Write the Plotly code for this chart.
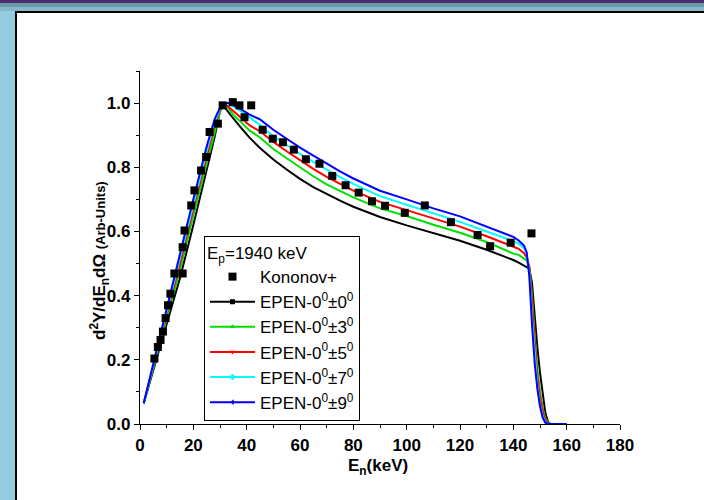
import plotly.graph_objects as go

# Neutron energy grid (keV) for the EPEN simulated spectra
energy = [1.4, 5, 10, 15, 20, 25, 28, 30, 31, 32, 33, 35, 38, 41, 45, 50, 55, 60, 65, 70,
          75, 80, 90, 100, 110, 120, 130, 135, 140, 142, 144, 145, 146, 147, 148, 149,
          150, 151, 152, 153, 154, 156, 160]

epen_0 = [0.065, 0.168, 0.31, 0.455, 0.62, 0.79, 0.895, 0.975, 0.995, 0.984, 0.972, 0.952, 0.922,
          0.893, 0.860, 0.824, 0.793, 0.764, 0.738, 0.716, 0.696, 0.677, 0.645, 0.619, 0.596,
          0.571, 0.543, 0.528, 0.511, 0.503, 0.494, 0.489, 0.484, 0.44, 0.33, 0.24, 0.16,
          0.09, 0.035, 0.006, 0.0, 0.0, 0.0]
epen_3 = [0.065, 0.175, 0.325, 0.48, 0.65, 0.815, 0.915, 0.972, 0.99, 0.995, 0.985, 0.963, 0.94,
          0.915, 0.893, 0.857, 0.828, 0.80, 0.772, 0.747, 0.726, 0.706, 0.672, 0.648, 0.621,
          0.596, 0.567, 0.549, 0.531, 0.527, 0.517, 0.51, 0.49, 0.40, 0.28, 0.17, 0.10,
          0.05, 0.018, 0.004, 0.0, 0.0, 0.0]
epen_5 = [0.065, 0.18, 0.34, 0.50, 0.67, 0.83, 0.93, 0.978, 0.993, 0.997, 0.99, 0.973, 0.953,
          0.931, 0.912, 0.879, 0.850, 0.822, 0.795, 0.770, 0.748, 0.727, 0.692, 0.667, 0.640,
          0.615, 0.585, 0.569, 0.551, 0.546, 0.532, 0.52, 0.49, 0.38, 0.25, 0.15, 0.085,
          0.04, 0.012, 0.002, 0.0, 0.0, 0.0]
epen_7 = [0.065, 0.185, 0.35, 0.515, 0.685, 0.85, 0.94, 0.982, 0.995, 0.998, 0.996, 0.99, 0.974,
          0.955, 0.932, 0.897, 0.869, 0.842, 0.817, 0.792, 0.769, 0.748, 0.71, 0.683, 0.656,
          0.63, 0.60, 0.586, 0.57, 0.562, 0.548, 0.53, 0.47, 0.33, 0.21, 0.12, 0.06,
          0.025, 0.006, 0.0, 0.0, 0.0, 0.0]
epen_9 = [0.065, 0.19, 0.36, 0.53, 0.70, 0.865, 0.95, 0.985, 0.995, 1.0, 1.0, 0.994, 0.98,
          0.965, 0.949, 0.917, 0.889, 0.861, 0.836, 0.811, 0.787, 0.765, 0.727, 0.70, 0.672,
          0.647, 0.615, 0.60, 0.583, 0.572, 0.556, 0.535, 0.46, 0.31, 0.19, 0.11, 0.055,
          0.02, 0.004, 0.0, 0.0, 0.0, 0.0]

# Measured spectrum (Kononov et al.)
kon_energy = [5.4, 6.7, 7.7, 8.6, 9.6, 10.5, 11.4, 12.9, 16.0, 16.0, 16.7, 19.2, 20.4, 22.9,
              24.8, 26.1, 29.2, 31.0, 34.8, 37.3, 39.2, 41.7, 46.0, 49.8, 53.6, 57.7, 62.2,
              67.3, 72.1, 77.1, 82.0, 87.0, 91.9, 99.3, 106.8, 116.6, 126.6, 131.3, 139.0, 146.8]
kon_yield = [0.204, 0.240, 0.262, 0.288, 0.33, 0.37, 0.406, 0.469, 0.469, 0.551, 0.603, 0.681,
             0.728, 0.79, 0.832, 0.91, 0.936, 0.993, 1.003, 0.993, 0.956, 0.993, 0.917, 0.889,
             0.878, 0.855, 0.825, 0.811, 0.773, 0.744, 0.721, 0.694, 0.68, 0.658, 0.681, 0.629,
             0.589, 0.554, 0.565, 0.594]

series = [
    ("EPEN-0<sup>0</sup>±0<sup>0</sup>", epen_0, "#000000", "square"),
    ("EPEN-0<sup>0</sup>±3<sup>0</sup>", epen_3, "#00e000", "triangle-up"),
    ("EPEN-0<sup>0</sup>±5<sup>0</sup>", epen_5, "#ff0000", "triangle-down"),
    ("EPEN-0<sup>0</sup>±7<sup>0</sup>", epen_7, "#00ffff", "diamond"),
    ("EPEN-0<sup>0</sup>±9<sup>0</sup>", epen_9, "#0000ff", "triangle-left"),
]

FONT = "Arial, Liberation Sans, sans-serif"
W, H = 704, 500
ML, MR, MT, MB = 140, 84, 71, 76
PW, PH = W - ML - MR, H - MT - MB


def px(x):
    return (x - ML) / PW


def py(y):
    return 1 - (y - MT) / PH


fig = go.Figure()

# simulated curves
for name, vals, col, sym in series:
    fig.add_trace(go.Scatter(x=energy, y=vals, mode="lines", showlegend=False,
                             line=dict(color=col, width=2), cliponaxis=False))

# measured points drawn on top
fig.add_trace(go.Scatter(x=kon_energy, y=kon_yield, mode="markers", name="Kononov+",
                         marker=dict(symbol="square", size=8, color="black"),
                         cliponaxis=False, legendrank=1))

# legend keys: line with a small symbol in the middle
for i, (name, vals, col, sym) in enumerate(series):
    fig.add_trace(go.Scatter(x=[None], y=[None], mode="lines+markers", name=name,
                             line=dict(color=col, width=2),
                             marker=dict(symbol=sym, size=5, color=col),
                             legendrank=2 + i))

axis_common = dict(showline=True, linecolor="black", linewidth=1.3, ticks="outside",
                   ticklen=5, tickwidth=1.3, tickcolor="black", showgrid=False,
                   zeroline=False, mirror=False,
                   tickfont=dict(family=FONT, size=17, color="black", weight=700))

fig.update_xaxes(range=[0, 180], dtick=20, tick0=0,
                 minor=dict(dtick=10, ticks="outside", ticklen=3, tickwidth=1.3,
                            tickcolor="black", showgrid=False),
                 **axis_common)
fig.update_yaxes(range=[0, 1.1], dtick=0.2, tick0=0, tickformat=".1f",
                 minor=dict(dtick=0.1, ticks="outside", ticklen=3, tickwidth=1.3,
                            tickcolor="black", showgrid=False),
                 **axis_common)

# slide-style frame around the chart
shapes = [
    dict(type="rect", x0=px(0), x1=px(15), y0=py(H), y1=py(0), fillcolor="#94cde0", line_width=0),
    dict(type="rect", x0=px(0), x1=px(W), y0=py(3), y1=py(0), fillcolor="#4b2f6a", line_width=0),
    dict(type="rect", x0=px(0), x1=px(W), y0=py(7), y1=py(3), fillcolor="#6a9aaa", line_width=0),
    dict(type="rect", x0=px(0), x1=px(W), y0=py(11), y1=py(7), fillcolor="#86b8c7", line_width=0),
    dict(type="rect", x0=px(15), x1=px(W), y0=py(13), y1=py(11), fillcolor="#000000", line_width=0),
    dict(type="rect", x0=px(15), x1=px(17), y0=py(H), y1=py(11), fillcolor="#000000", line_width=0),
]
for s in shapes:
    s.update(xref="paper", yref="paper", layer="below")

annotations = [
    dict(text="d<sup>2</sup>Y/dE<sub>n</sub>dΩ <span style='font-size:13px'>(Arb-Units)</span>",
         x=px(99), y=py(261), xref="paper", yref="paper", textangle=-90, showarrow=False,
         xanchor="center", yanchor="middle",
         font=dict(family=FONT, size=17, color="black", weight=700)),
    dict(text="E<sub>n</sub>(keV)", x=px(378), y=py(467), xref="paper", yref="paper",
         showarrow=False, xanchor="center", yanchor="middle",
         font=dict(family=FONT, size=17, color="black", weight=700)),
]

fig.update_layout(
    width=W, height=H,
    margin=dict(l=ML, r=MR, t=MT, b=MB),
    paper_bgcolor="white", plot_bgcolor="rgba(0,0,0,0)",
    shapes=shapes, annotations=annotations,
    showlegend=True,
    legend=dict(x=px(204), y=py(236), xanchor="left", yanchor="top",
                bgcolor="white", bordercolor="black", borderwidth=1,
                font=dict(family=FONT, size=17, color="black"),
                title=dict(text="E<sub>p</sub>=1940 keV", font=dict(family=FONT, size=17, color="black")),
                tracegroupgap=0, itemwidth=45, traceorder="normal"),
)

fig.write_html("out.html", config={"displayModeBar": False})
